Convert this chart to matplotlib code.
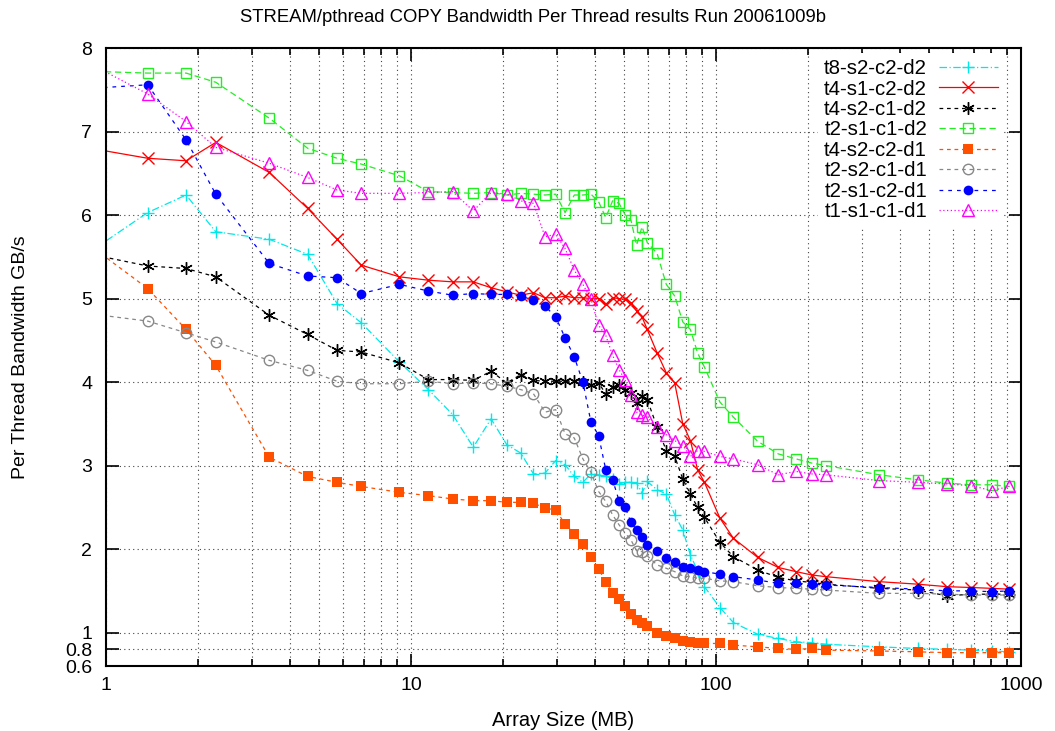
import matplotlib
matplotlib.use("Agg")
import matplotlib.pyplot as plt
from matplotlib.ticker import LogLocator, NullFormatter

plt.rcParams['font.family'] = ['Liberation Sans', 'DejaVu Sans']

# array sizes (MB); first point lies just left of the plotted range
size_mb = [0.92, 1.37, 1.83, 2.29, 3.43, 4.58, 5.72, 6.87, 9.16,
           11.4, 13.7, 16.0, 18.3, 20.6, 22.9, 25.2, 27.5, 29.8, 32.0, 34.3,
           36.6, 38.9, 41.2, 43.5, 45.8, 48.1, 50.4, 52.6, 54.9, 57.2, 59.5,
           64.1, 68.7, 73.2, 77.8, 82.4, 87.0, 91.6, 103, 114,
           137, 160, 183, 206, 229, 343, 458, 572, 687, 801, 916]

t8_s2_c2_d2 = [5.60, 6.03, 6.24, 5.80, 5.71, 5.53, 4.94, 4.71, 4.24,
               3.91, 3.61, 3.22, 3.56, 3.25, 3.15, 2.90, 2.91, 3.06, 3.01, 2.87,
               2.80, 2.90, 2.89, 2.87, 2.84, 2.78, 2.80, 2.80, 2.79, 2.67, 2.81,
               2.71, 2.66, 2.41, 2.23, 1.93, 1.74, 1.55, 1.30, 1.12,
               0.98, 0.93, 0.89, 0.88, 0.86, 0.83, 0.81, 0.80, 0.79, 0.78, 0.77]
t4_s1_c2_d2 = [6.79, 6.68, 6.65, 6.87, 6.51, 6.08, 5.71, 5.40, 5.26,
               5.22, 5.20, 5.20, 5.13, 5.08, 5.04, 5.07, 5.01, 5.01, 5.03, 5.01,
               5.01, 5.00, 5.00, 4.93, 5.01, 5.00, 4.99, 4.95, 4.85, 4.78, 4.63,
               4.35, 4.11, 3.99, 3.50, 3.30, 2.95, 2.80, 2.37, 2.13,
               1.90, 1.78, 1.73, 1.69, 1.67, 1.61, 1.58, 1.55, 1.54, 1.53, 1.52]
t4_s2_c1_d2 = [5.52, 5.39, 5.36, 5.26, 4.80, 4.57, 4.38, 4.36, 4.23,
               4.03, 4.03, 4.02, 4.13, 3.99, 4.09, 4.02, 4.01, 4.01, 4.01, 4.01,
               4.00, 3.97, 3.99, 3.86, 3.94, 3.97, 3.90, 3.87, 3.75, 3.83, 3.79,
               3.46, 3.18, 3.11, 2.84, 2.66, 2.50, 2.38, 2.08, 1.91,
               1.75, 1.66, 1.62, 1.60, 1.58, 1.53, 1.51, 1.44, 1.46, 1.46, 1.46]
t2_s1_c1_d2 = [7.72, 7.70, 7.70, 7.59, 7.16, 6.80, 6.68, 6.61, 6.47,
               6.28, 6.27, 6.26, 6.27, 6.24, 6.26, 6.25, 6.24, 6.25, 6.03, 6.24,
               6.24, 6.25, 6.16, 5.97, 6.17, 6.14, 6.00, 5.94, 5.64, 5.86, 5.67,
               5.54, 5.17, 5.03, 4.72, 4.63, 4.35, 4.18, 3.76, 3.58,
               3.29, 3.14, 3.08, 3.03, 3.00, 2.89, 2.83, 2.79, 2.77, 2.77, 2.75]
t4_s2_c2_d1 = [5.59, 5.12, 4.63, 4.20, 3.10, 2.87, 2.80, 2.75, 2.68,
               2.64, 2.60, 2.58, 2.58, 2.56, 2.56, 2.55, 2.49, 2.47, 2.30, 2.18,
               2.06, 1.91, 1.76, 1.61, 1.48, 1.40, 1.32, 1.22, 1.15, 1.12, 1.08,
               1.00, 0.96, 0.93, 0.90, 0.89, 0.88, 0.87, 0.87, 0.85,
               0.83, 0.81, 0.80, 0.81, 0.79, 0.78, 0.77, 0.76, 0.76, 0.76, 0.76]
t2_s2_c1_d1 = [4.81, 4.73, 4.59, 4.48, 4.26, 4.14, 4.01, 3.98, 3.98,
               4.01, 3.98, 3.99, 3.98, 3.95, 3.91, 3.86, 3.64, 3.67, 3.38, 3.33,
               3.08, 2.92, 2.69, 2.57, 2.41, 2.29, 2.19, 2.11, 1.98, 1.97, 1.92,
               1.81, 1.77, 1.73, 1.68, 1.67, 1.65, 1.65, 1.62, 1.61,
               1.56, 1.54, 1.53, 1.52, 1.51, 1.47, 1.47, 1.46, 1.45, 1.45, 1.45]
t2_s1_c2_d1 = [7.52, 7.56, 6.90, 6.25, 5.42, 5.27, 5.25, 5.06, 5.17,
               5.09, 5.04, 5.06, 5.05, 5.05, 5.03, 4.98, 4.91, 4.78, 4.53, 4.30,
               4.00, 3.52, 3.36, 2.95, 2.83, 2.58, 2.50, 2.32, 2.23, 2.14, 2.05,
               1.98, 1.89, 1.84, 1.79, 1.77, 1.75, 1.73, 1.70, 1.67,
               1.63, 1.59, 1.59, 1.58, 1.57, 1.54, 1.52, 1.50, 1.50, 1.49, 1.50]
t1_s1_c1_d1 = [7.78, 7.45, 7.12, 6.81, 6.62, 6.45, 6.30, 6.26, 6.26,
               6.27, 6.28, 6.05, 6.27, 6.25, 6.17, 6.14, 5.74, 5.77, 5.60, 5.34,
               5.17, 4.99, 4.68, 4.56, 4.32, 4.15, 4.02, 3.85, 3.64, 3.61, 3.58,
               3.46, 3.37, 3.30, 3.24, 3.11, 3.18, 3.17, 3.11, 3.08,
               3.01, 2.89, 2.93, 2.90, 2.89, 2.82, 2.80, 2.78, 2.76, 2.70, 2.75]

y_ticks = [0.6, 0.8, 1, 2, 3, 4, 5, 6, 7, 8]
y_labels = ['0.6', '0.8', '1', '2', '3', '4', '5', '6', '7', '8']
x_ticks = [1, 10, 100, 1000]

fig = plt.figure(figsize=(10.55, 7.31), dpi=100)
ax = fig.add_axes([0.1005, 0.0889, 0.8673, 0.8454])

lw = 0.9
ax.plot(size_mb, t8_s2_c2_d2, color='#00e8e8', ls=(0, (6, 2, 1, 2)), lw=lw,
        marker='+', ms=9, mew=1, label='t8-s2-c2-d2')
ax.plot(size_mb, t4_s1_c2_d2, color='#ff0000', ls='-', lw=lw,
        marker='x', ms=8, mew=1, label='t4-s1-c2-d2')
ax.plot(size_mb, t4_s2_c1_d2, color='#000000', ls=(0, (3, 3)), lw=lw,
        marker=(6, 2, 0), ms=9, mew=1, label='t4-s2-c1-d2')
ax.plot(size_mb, t2_s1_c1_d2, color='#22ee22', ls=(0, (5, 3)), lw=lw,
        marker='s', ms=7.5, mfc='none', mew=1, label='t2-s1-c1-d2')
ax.plot(size_mb, t4_s2_c2_d1, color='#ff5000', ls=(0, (3, 3)), lw=lw,
        marker='s', ms=7, mew=0, label='t4-s2-c2-d1')
ax.plot(size_mb, t2_s2_c1_d1, color='#888888', ls=(0, (3, 3)), lw=lw,
        marker='o', ms=7.5, mfc='none', mew=1, label='t2-s2-c1-d1')
ax.plot(size_mb, t2_s1_c2_d1, color='#0000ff', ls=(0, (3, 4)), lw=lw,
        marker='o', ms=7, mew=0, label='t2-s1-c2-d1')
ax.plot(size_mb, t1_s1_c1_d1, color='#ff00ff', ls=(0, (1, 2)), lw=lw,
        marker='^', ms=8, mfc='none', mew=1, label='t1-s1-c1-d1')

ax.set_xscale('log')
ax.set_xlim(1, 1000)
ax.set_ylim(0.6, 8)
ax.set_yticks(y_ticks)
ax.set_yticklabels(y_labels)
ax.xaxis.set_minor_locator(LogLocator(base=10, subs=range(2, 10)))
ax.xaxis.set_minor_formatter(NullFormatter())
ax.set_xticks(x_ticks)
ax.set_xticklabels([str(v) for v in x_ticks])

ax.tick_params(which='both', direction='in', top=True, right=True,
               labelsize=14, width=1.2)
ax.tick_params(axis='x', pad=8)
ax.tick_params(axis='y', pad=10)
ax.tick_params(which='major', length=9)
ax.tick_params(which='minor', length=5)
for s in ax.spines.values():
    s.set_linewidth(1.5)

ax.grid(True, which='both', axis='x', color='#444444', ls=(0, (1, 3)), lw=0.8)
ax.grid(True, which='major', axis='y', color='#444444', ls=(0, (1, 3)), lw=0.8)
ax.set_axisbelow(True)

fig.text(533 / 1055, 1 - 17 / 731,
         'STREAM/pthread COPY Bandwidth Per Thread results Run 20061009b',
         fontsize=13.3, ha='center', va='center')
ax.set_xlabel('Array Size (MB)', fontsize=14.5, labelpad=12)
ax.set_ylabel('Per Thread Bandwidth GB/s', fontsize=14, labelpad=26)

leg = ax.legend(loc='upper right', bbox_to_anchor=(0.981, 0.992), fontsize=14.7,
                markerfirst=False, handlelength=2.85, handletextpad=0.6,
                labelspacing=0.07, borderpad=0.3, borderaxespad=0.0,
                frameon=True, facecolor='white', edgecolor='none',
                framealpha=1, fancybox=False)
leg.set_zorder(5)

plt.savefig('out.png', dpi=100)
plt.close()
